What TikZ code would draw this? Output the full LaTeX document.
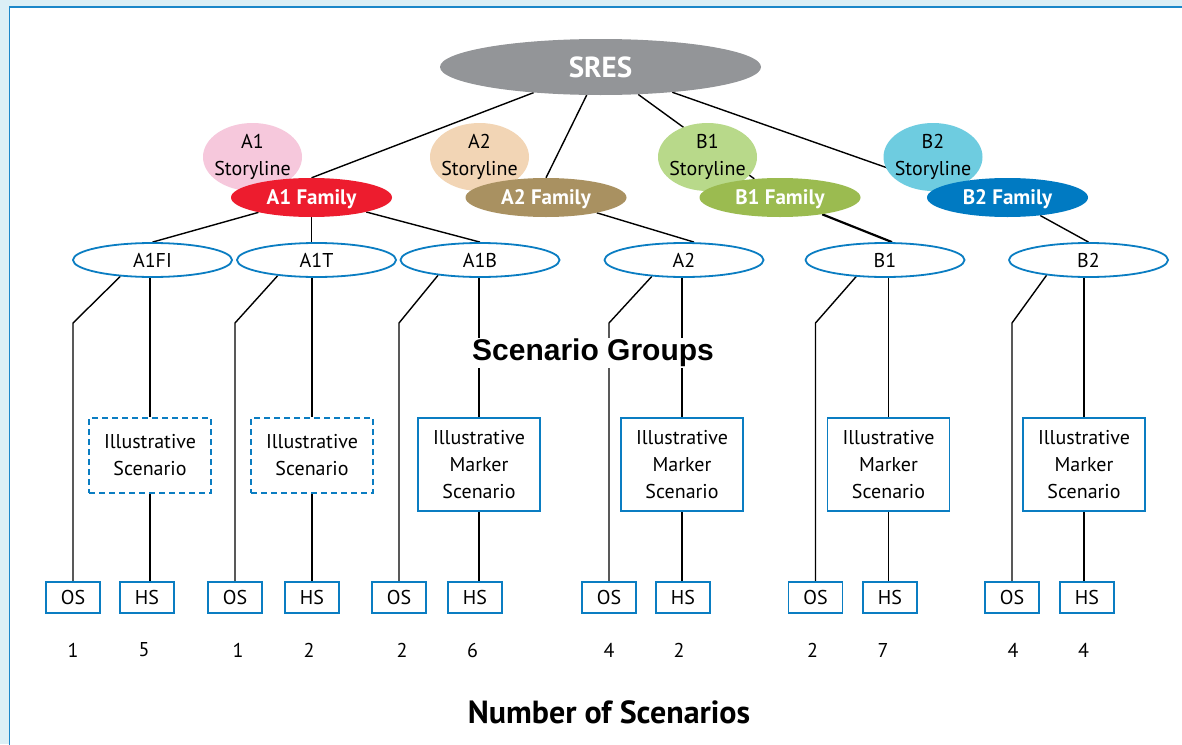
\documentclass[tikz,border=0pt]{standalone}
\usepackage{fontspec}
\setmainfont{PT Sans}
\newfontfamily\arialfont{Liberation Sans}
\usetikzlibrary{shapes.geometric,backgrounds}
\definecolor{bgblue}{HTML}{DBEFF6}
\definecolor{edgeblue}{HTML}{1B87C9}
\definecolor{boxblue}{HTML}{0A7DC2}
\definecolor{sresgray}{HTML}{939598}
\definecolor{aonestory}{HTML}{F6C8DC}
\definecolor{aonefam}{HTML}{ED1C2E}
\definecolor{atwostory}{HTML}{F2D5B5}
\definecolor{atwofam}{HTML}{A99161}
\definecolor{bonestory}{HTML}{B8D98A}
\definecolor{bonefam}{HTML}{9BBB50}
\definecolor{btwostory}{HTML}{6ECCE0}
\definecolor{btwofam}{HTML}{007AC2}
\begin{document}
\begin{tikzpicture}[x=1pt,y=-1pt,font=\fontsize{20}{27}\selectfont,
  story/.style={ellipse,inner sep=0pt,minimum width=99pt,minimum height=68pt},
  family/.style={ellipse,inner sep=0pt,minimum width=161pt,minimum height=39pt,text=white,text height=14.7pt,text depth=0pt,font=\fontsize{21}{25}\selectfont\bfseries},
  group/.style={ellipse,draw=boxblue,line width=1.8pt,fill=white,inner sep=0pt,minimum width=159pt,minimum height=34pt},
  illus/.style={rectangle,draw=boxblue,line width=1.8pt,fill=white,align=center,minimum width=122pt,minimum height=75pt},
  marker/.style={illus,minimum height=93pt},
  count/.style={rectangle,draw=boxblue,line width=1.8pt,fill=white,inner sep=0pt,minimum width=54pt,minimum height=31pt}]
\useasboundingbox (0,0) rectangle (1182,744);
\node[ellipse,fill=sresgray,minimum width=321pt,minimum height=56pt,text=white,font=\fontsize{29}{33}\selectfont\bfseries] (sres) at (600.5,67) {SRES};
\node[story,fill=aonestory,label={[align=center]center:{A1\\Storyline}}] (a1s) at (252.5,157) {};
\node[story,fill=atwostory,label={[align=center]center:{A2\\Storyline}}] (a2s) at (479.5,157) {};
\node[story,fill=bonestory,label={[align=center]center:{B1\\Storyline}}] (b1s) at (707.5,157) {};
\node[story,fill=btwostory,label={[align=center]center:{B2\\Storyline}}] (b2s) at (933,157) {};
\node[family,fill=aonefam] (a1f) at (311.5,197.5) {A1 Family};
\node[family,fill=atwofam] (a2f) at (546,197.5) {A2 Family};
\node[family,fill=bonefam] (b1f) at (780,197.5) {B1 Family};
\node[family,fill=btwofam] (b2f) at (1007.5,197.5) {B2 Family};
\node[group] (g1) at (152.5,260) {A1FI};
\node[group] (g2) at (316.5,260) {A1T};
\node[group] (g3) at (480,260) {A1B};
\node[group] (g4) at (684,260) {A2};
\node[group] (g5) at (885,260) {B1};
\node[group] (g6) at (1088.5,260) {B2};
\node[fill=white,inner sep=1pt,font=\arialfont\fontsize{30}{34}\selectfont\bfseries] (groups) at (593,353) {Scenario Groups};
\node[illus,dash pattern=on 6pt off 4pt] (i1) at (150,455.5) {Illustrative\\Scenario};
\node[illus,dash pattern=on 6pt off 4pt] (i2) at (312,455.5) {Illustrative\\Scenario};
\node[marker] (i3) at (479,464.5) {Illustrative\\Marker\\Scenario};
\node[marker] (i4) at (682,464.5) {Illustrative\\Marker\\Scenario};
\node[marker] (i5) at (888.5,464.5) {Illustrative\\Marker\\Scenario};
\node[marker] (i6) at (1084,464.5) {Illustrative\\Marker\\Scenario};
\node[count] (os1) at (73,597.5) {OS};
\node[count] (hs1) at (147,597.5) {HS};
\node[count] (os2) at (235,597.5) {OS};
\node[count] (hs2) at (312,597.5) {HS};
\node[count] (os3) at (399,597.5) {OS};
\node[count] (hs3) at (475,597.5) {HS};
\node[count] (os4) at (609,597.5) {OS};
\node[count] (hs4) at (683,597.5) {HS};
\node[count] (os5) at (815.5,597.5) {OS};
\node[count] (hs5) at (890,597.5) {HS};
\node[count] (os6) at (1012,597.5) {OS};
\node[count] (hs6) at (1087,597.5) {HS};
\node (n1) at (73,650) {1};
\node (n2) at (144,650) {5};
\node (n3) at (238,650) {1};
\node (n4) at (309,650) {2};
\node (n5) at (402,650) {2};
\node (n6) at (472.5,650) {6};
\node (n7) at (609,650) {4};
\node (n8) at (679,650) {2};
\node (n9) at (812.5,650) {2};
\node (n10) at (883,650) {7};
\node (n11) at (1013,650) {4};
\node (n12) at (1083.5,650) {4};
\node[font=\fontsize{32}{36}\selectfont\bfseries] (total) at (609,712) {Number of Scenarios};
\begin{pgfonlayer}{background}
\begin{scope}[line width=1.4pt]
\fill[bgblue] (0,0) rectangle (1182,744);
\draw[fill=white,draw=edgeblue,line width=1.3pt] (9.5,7) rectangle (1200,760);
\draw (sres) -- (a1f.north);
\draw (sres) -- (a2f.north);
\draw (sres) -- (b1f);
\draw (sres) -- ([xshift=-36pt]b2f.center);
\draw (a1f) -- (g1.north);
\draw (a1f) -- (a1f |- g2.north);
\draw (a1f) -- (g3.north);
\draw (a2f) -- ([xshift=10pt]g4.north);
\draw[line width=2.2pt] (b1f) -- ([xshift=7pt]g5.north);
\draw (b2f) -- (g6.north);
\coordinate (bend) at (0,323);
\draw (os1.north) -- (os1.north |- bend) -- (g1.207);
\draw (os2.north) -- (os2.north |- bend) -- (g2.202);
\draw (os3.north) -- (os3.north |- bend) -- (g3.200);
\draw (os4.north) -- (os4.north |- bend) -- (g4.207);
\draw (os5.north) -- (os5.north |- bend) -- (g5.210);
\draw (os6.north) -- (os6.north |- bend) -- (g6.200);
\draw (i1.north) -- (i1.north |- g1.south);
\draw (i2.north) -- (i2.north |- g2.south);
\draw (i3.north) -- (i3.north |- g3.south);
\draw (i4.north) -- (i4.north |- g4.south);
\draw (i5.north) -- (i5.north |- g5.south);
\draw (i6.north) -- (i6.north |- g6.south);
\draw (i1.south) -- (i1.south |- hs1.north);
\draw (i2.south) -- (i2.south |- hs2.north);
\draw (i3.south) -- (i3.south |- hs3.north);
\draw (i4.south) -- (i4.south |- hs4.north);
\draw (i5.south) -- (i5.south |- hs5.north);
\draw (i6.south) -- (i6.south |- hs6.north);
\end{scope}
\end{pgfonlayer}
\end{tikzpicture}
\end{document}
